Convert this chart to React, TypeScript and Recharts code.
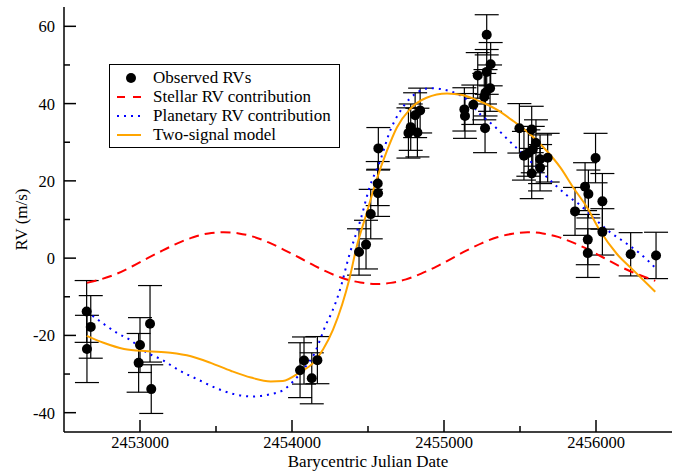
import React from "react";
import { ComposedChart, Line, Scatter, ErrorBar, XAxis, YAxis, Label } from "recharts";

const FONT = '"Liberation Serif", "Times New Roman", serif';

// model curves (BJD, m/s)
const stellarModel = [
  { bjd: 2452650, rv: -6.4 }, { bjd: 2452750, rv: -5.4 }, { bjd: 2452850, rv: -4.0 },
  { bjd: 2452950, rv: -2.1 }, { bjd: 2453050, rv: 0.0 }, { bjd: 2453150, rv: 2.0 },
  { bjd: 2453250, rv: 3.9 }, { bjd: 2453350, rv: 5.4 }, { bjd: 2453450, rv: 6.4 },
  { bjd: 2453550, rv: 6.7 }, { bjd: 2453650, rv: 6.4 }, { bjd: 2453750, rv: 5.5 },
  { bjd: 2453850, rv: 4.0 }, { bjd: 2453950, rv: 2.1 }, { bjd: 2454050, rv: 0.1 },
  { bjd: 2454150, rv: -2.0 }, { bjd: 2454250, rv: -3.9 }, { bjd: 2454350, rv: -5.4 },
  { bjd: 2454450, rv: -6.3 }, { bjd: 2454550, rv: -6.7 }, { bjd: 2454650, rv: -6.4 },
  { bjd: 2454750, rv: -5.5 }, { bjd: 2454850, rv: -4.0 }, { bjd: 2454950, rv: -2.2 },
  { bjd: 2455050, rv: -0.1 }, { bjd: 2455150, rv: 2.0 }, { bjd: 2455250, rv: 3.9 },
  { bjd: 2455350, rv: 5.4 }, { bjd: 2455450, rv: 6.3 }, { bjd: 2455550, rv: 6.7 },
  { bjd: 2455650, rv: 6.4 }, { bjd: 2455750, rv: 5.5 }, { bjd: 2455850, rv: 4.0 },
  { bjd: 2455950, rv: 2.2 }, { bjd: 2456050, rv: 0.1 }, { bjd: 2456150, rv: -2.0 },
  { bjd: 2456250, rv: -3.8 }, { bjd: 2456350, rv: -5.3 }, { bjd: 2456390, rv: -5.9 },
];

const planetModel = [
  { bjd: 2452650, rv: -13.8 }, { bjd: 2452760, rv: -17.0 }, { bjd: 2452850, rv: -19.4 },
  { bjd: 2452940, rv: -21.3 }, { bjd: 2453030, rv: -24.1 }, { bjd: 2453140, rv: -26.2 },
  { bjd: 2453260, rv: -29.1 }, { bjd: 2453380, rv: -31.4 }, { bjd: 2453510, rv: -33.8 },
  { bjd: 2453620, rv: -35.2 }, { bjd: 2453740, rv: -35.8 }, { bjd: 2453860, rv: -35.2 },
  { bjd: 2453940, rv: -34.2 }, { bjd: 2454010, rv: -31.8 }, { bjd: 2454100, rv: -27.5 },
  { bjd: 2454150, rv: -24.5 }, { bjd: 2454185, rv: -21.1 }, { bjd: 2454220, rv: -17.5 },
  { bjd: 2454260, rv: -14.2 }, { bjd: 2454310, rv: -8.9 }, { bjd: 2454380, rv: 1.2 },
  { bjd: 2454450, rv: 9.8 }, { bjd: 2454510, rv: 18.3 }, { bjd: 2454580, rv: 25.2 },
  { bjd: 2454645, rv: 32.9 }, { bjd: 2454730, rv: 39.1 }, { bjd: 2454820, rv: 42.8 },
  { bjd: 2454910, rv: 44.0 }, { bjd: 2455040, rv: 43.2 }, { bjd: 2455150, rv: 41.0 },
  { bjd: 2455240, rv: 37.2 }, { bjd: 2455330, rv: 34.2 }, { bjd: 2455430, rv: 30.3 },
  { bjd: 2455520, rv: 26.9 }, { bjd: 2455610, rv: 23.5 }, { bjd: 2455700, rv: 20.1 },
  { bjd: 2455810, rv: 16.2 }, { bjd: 2455900, rv: 13.6 }, { bjd: 2455980, rv: 10.6 },
  { bjd: 2456090, rv: 6.8 }, { bjd: 2456200, rv: 3.8 }, { bjd: 2456290, rv: 1.2 },
  { bjd: 2456395, rv: -2.7 },
];

const combinedModel = [
  { bjd: 2452650, rv: -20.1 }, { bjd: 2452760, rv: -21.9 }, { bjd: 2452895, rv: -23.5 },
  { bjd: 2453050, rv: -24.1 }, { bjd: 2453200, rv: -24.5 }, { bjd: 2453335, rv: -25.4 },
  { bjd: 2453465, rv: -27.1 }, { bjd: 2453600, rv: -29.2 }, { bjd: 2453730, rv: -30.9 },
  { bjd: 2453860, rv: -31.9 }, { bjd: 2453940, rv: -31.8 }, { bjd: 2454050, rv: -29.6 },
  { bjd: 2454140, rv: -27.1 }, { bjd: 2454205, rv: -23.6 }, { bjd: 2454270, rv: -18.5 },
  { bjd: 2454330, rv: -12.0 }, { bjd: 2454375, rv: -5.8 }, { bjd: 2454425, rv: 2.9 },
  { bjd: 2454490, rv: 11.5 }, { bjd: 2454555, rv: 20.1 }, { bjd: 2454625, rv: 27.8 },
  { bjd: 2454690, rv: 33.8 }, { bjd: 2454775, rv: 38.5 }, { bjd: 2454885, rv: 41.5 },
  { bjd: 2455020, rv: 42.6 }, { bjd: 2455120, rv: 42.2 }, { bjd: 2455235, rv: 40.6 },
  { bjd: 2455345, rv: 38.5 }, { bjd: 2455455, rv: 35.5 }, { bjd: 2455565, rv: 32.1 },
  { bjd: 2455675, rv: 27.8 }, { bjd: 2455765, rv: 23.5 }, { bjd: 2455850, rv: 18.3 },
  { bjd: 2455940, rv: 13.2 }, { bjd: 2456025, rv: 7.2 }, { bjd: 2456135, rv: 1.2 },
  { bjd: 2456245, rv: -3.1 }, { bjd: 2456390, rv: -8.7 },
];

// observed radial velocities with 1-sigma errors
const observed = [
  { bjd: 2452649, rv: -13.8, err: 8.0 }, { bjd: 2452651, rv: -23.5, err: 8.7 },
  { bjd: 2452676, rv: -17.8, err: 8.1 }, { bjd: 2453000, rv: -22.5, err: 7.1 },
  { bjd: 2452991, rv: -27.1, err: 7.6 }, { bjd: 2453066, rv: -17.0, err: 9.9 },
  { bjd: 2453074, rv: -33.9, err: 6.3 },
  { bjd: 2454053, rv: -29.0, err: 7.1 }, { bjd: 2454079, rv: -26.5, err: 6.1 },
  { bjd: 2454130, rv: -31.1, err: 6.6 }, { bjd: 2454167, rv: -26.4, err: 6.1 },
  { bjd: 2454441, rv: 1.6, err: 6.0 }, { bjd: 2454487, rv: 3.5, err: 6.3 },
  { bjd: 2454518, rv: 11.4, err: 6.4 }, { bjd: 2454564, rv: 19.3, err: 5.7 },
  { bjd: 2454566, rv: 16.8, err: 6.0 }, { bjd: 2454568, rv: 28.4, err: 5.4 },
  { bjd: 2454766, rv: 32.4, err: 6.5 }, { bjd: 2454781, rv: 33.9, err: 6.0 },
  { bjd: 2454825, rv: 32.5, err: 6.3 }, { bjd: 2454810, rv: 37.0, err: 5.8 },
  { bjd: 2454843, rv: 38.2, err: 5.8 },
  { bjd: 2455134, rv: 38.5, err: 5.6 }, { bjd: 2455138, rv: 36.8, err: 5.8 },
  { bjd: 2455193, rv: 39.7, err: 5.1 }, { bjd: 2455222, rv: 47.3, err: 5.9 },
  { bjd: 2455281, rv: 57.8, err: 5.2 }, { bjd: 2455281, rv: 48.2, err: 5.8 },
  { bjd: 2455307, rv: 50.2, err: 5.6 }, { bjd: 2455303, rv: 44.0, err: 6.0 },
  { bjd: 2455273, rv: 42.8, err: 6.0 }, { bjd: 2455265, rv: 41.8, err: 6.0 },
  { bjd: 2455270, rv: 33.6, err: 6.3 },
  { bjd: 2455496, rv: 33.6, err: 6.4 }, { bjd: 2455577, rv: 33.3, err: 6.0 },
  { bjd: 2455605, rv: 29.8, err: 6.0 }, { bjd: 2455526, rv: 26.5, err: 6.3 },
  { bjd: 2455555, rv: 27.2, err: 6.0 }, { bjd: 2455584, rv: 28.1, err: 6.0 },
  { bjd: 2455577, rv: 21.9, err: 6.5 }, { bjd: 2455632, rv: 25.6, err: 6.3 },
  { bjd: 2455632, rv: 23.4, err: 6.0 }, { bjd: 2455682, rv: 26.0, err: 6.3 },
  { bjd: 2455862, rv: 12.1, err: 6.2 }, { bjd: 2455928, rv: 18.5, err: 6.2 },
  { bjd: 2455950, rv: 16.6, err: 6.2 }, { bjd: 2455946, rv: 4.8, err: 6.5 },
  { bjd: 2455946, rv: 1.3, err: 6.3 }, { bjd: 2455997, rv: 25.9, err: 6.4 },
  { bjd: 2456042, rv: 14.7, err: 7.2 }, { bjd: 2456042, rv: 6.8, err: 6.0 },
  { bjd: 2456228, rv: 1.0, err: 5.6 }, { bjd: 2456395, rv: 0.7, err: 6.0 },
];

const xTicks = [2453000, 2453500, 2454000, 2454500, 2455000, 2455500, 2456000];
const yTicks = [-40, -30, -20, -10, 0, 10, 20, 30, 40, 50, 60];
const legendItems = ["Observed RVs", "Stellar RV contribution", "Planetary RV contribution", "Two-signal model"];

const isMajorX = (v: number) => v % 1000 === 0;
const isMajorY = (v: number) => v % 20 === 0;

const BottomTick = ({ x, y, payload }: any) => {
  const major = isMajorX(payload.value);
  return (
    <g>
      <line x1={x} y1={y} x2={x} y2={y - (major ? 12 : 6)} stroke="#000" strokeWidth={1.5} />
      {major && (
        <text x={x} y={y + 16} textAnchor="middle" fontSize={16.5} fontFamily={FONT} fill="#000">
          {payload.value}
        </text>
      )}
    </g>
  );
};

const TopTick = ({ x, y, payload }: any) => (
  <line x1={x} y1={y} x2={x} y2={y + (isMajorX(payload.value) ? 12 : 6)} stroke="#000" strokeWidth={1.5} />
);

const LeftTick = ({ x, y, payload }: any) => {
  const major = isMajorY(payload.value);
  return (
    <g>
      <line x1={x} y1={y} x2={x + (major ? 12 : 6)} y2={y} stroke="#000" strokeWidth={1.5} />
      {major && (
        <text x={x - 9} y={y + 6} textAnchor="end" fontSize={16.5} fontFamily={FONT} fill="#000">
          {payload.value}
        </text>
      )}
    </g>
  );
};

const RightTick = ({ x, y, payload }: any) => (
  <line x1={x} y1={y} x2={x - (isMajorY(payload.value) ? 12 : 6)} y2={y} stroke="#000" strokeWidth={1.5} />
);

const Dot = (p: any) => <circle cx={p.cx} cy={p.cy} r={5} fill="#000" />;

function LegendBox() {
  const row = { display: "flex", alignItems: "center", height: 19 } as const;
  return (
    <div
      style={{
        position: "absolute", left: 109, top: 64, width: 231, height: 84, boxSizing: "border-box",
        border: "1px solid #000", background: "#fff", paddingTop: 3, fontFamily: FONT, fontSize: 17,
      }}
    >
      {legendItems.map((label, i) => (
        <div key={label} style={row}>
          <svg width={43} height={19} style={{ flex: "none" }}>
            {i === 0 && <circle cx={21} cy={10} r={5} fill="#000" />}
            {i === 1 && <line x1={7} y1={10} x2={31} y2={10} stroke="#ff0000" strokeWidth={2} strokeDasharray="8 8" />}
            {i === 2 && <line x1={7} y1={10} x2={31} y2={10} stroke="#0000ff" strokeWidth={2} strokeDasharray="2 5" />}
            {i === 3 && <line x1={7} y1={10} x2={31} y2={10} stroke="#ffa500" strokeWidth={2} />}
          </svg>
          <span style={{ lineHeight: "19px" }}>{label}</span>
        </div>
      ))}
    </div>
  );
}

export default function App() {
  return (
    <div style={{ position: "absolute", left: 0, top: 0, width: 683, height: 473, background: "#fff" }}>
      <ComposedChart width={683} height={473} margin={{ top: 7, right: 11, bottom: 0, left: 0 }}>
        <XAxis
          dataKey="bjd" type="number" domain={[2452500, 2456500]} ticks={xTicks} allowDataOverflow
          height={41} tickSize={0} tickMargin={0} tickLine={false} tick={<BottomTick />} interval={0}
          axisLine={{ stroke: "#000", strokeWidth: 1.5 }}
        >
          <Label
            content={({ viewBox }: any) => (
              <text x={viewBox.x + viewBox.width / 2} y={viewBox.y + 35} textAnchor="middle" fontSize={17} fontFamily={FONT} fill="#000">
                Barycentric Julian Date
              </text>
            )}
          />
        </XAxis>
        <XAxis
          xAxisId="top" orientation="top" dataKey="bjd" type="number" domain={[2452500, 2456500]} ticks={xTicks}
          allowDataOverflow height={0} tickSize={0} tickMargin={0} tickLine={false} tick={<TopTick />} interval={0}
          axisLine={{ stroke: "#000", strokeWidth: 1.5 }}
        />
        <YAxis
          type="number" domain={[-45, 65]} ticks={yTicks} allowDataOverflow width={64} tickSize={0} tickMargin={0}
          tickLine={false} tick={<LeftTick />} interval={0} axisLine={{ stroke: "#000", strokeWidth: 1.5 }}
        >
          <Label
            content={({ viewBox }: any) => {
              const cy = viewBox.y + viewBox.height / 2;
              return (
                <text x={27} y={cy} transform={`rotate(-90 27 ${cy})`} textAnchor="middle" fontSize={17} fontFamily={FONT} fill="#000">
                  RV (m/s)
                </text>
              );
            }}
          />
        </YAxis>
        <YAxis
          yAxisId="right" orientation="right" type="number" domain={[-45, 65]} ticks={yTicks} allowDataOverflow width={0}
          tickSize={0} tickMargin={0} tickLine={false} tick={<RightTick />} interval={0}
          axisLine={{ stroke: "#000", strokeWidth: 1.5 }}
        />
        <Scatter data={observed} dataKey="rv" shape={<Dot />} isAnimationActive={false}>
          <ErrorBar dataKey="err" direction="y" width={12} stroke="#000" strokeWidth={1.2} />
        </Scatter>
        <Line data={stellarModel} dataKey="rv" type="monotone" stroke="#ff0000" strokeWidth={2} strokeDasharray="10 6" dot={false} isAnimationActive={false} />
        <Line data={planetModel} dataKey="rv" type="monotone" stroke="#0000ff" strokeWidth={2} strokeDasharray="2 5" dot={false} isAnimationActive={false} />
        <Line data={combinedModel} dataKey="rv" type="monotone" stroke="#ffa500" strokeWidth={2} dot={false} isAnimationActive={false} />
      </ComposedChart>
      <LegendBox />
    </div>
  );
}
